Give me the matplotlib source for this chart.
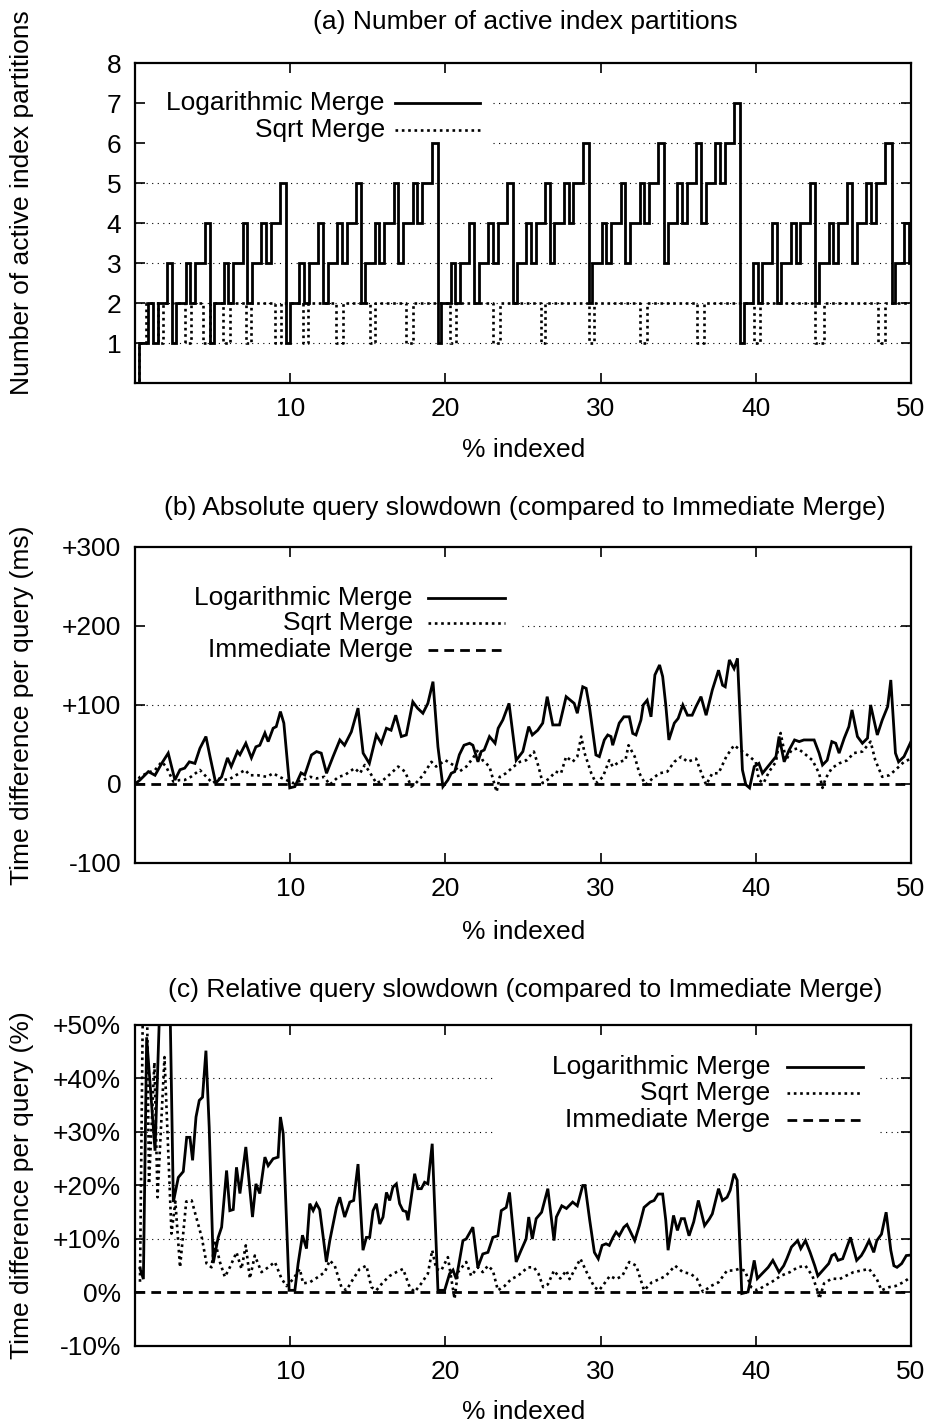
import matplotlib
matplotlib.use('Agg')
import matplotlib.pyplot as plt

plt.rcParams['font.family'] = ['Liberation Sans', 'DejaVu Sans']
plt.rcParams['font.size'] = 19

# ---------------- (a) number of active index partitions ----------------
# Logarithmic Merge: one entry per flush of the in-memory index
flush_at = [0.23, 0.84, 1.45, 2.06, 2.67, 3.27, 3.88, 4.49, 5.10, 5.71,
            6.32, 6.93, 7.54, 8.15, 8.76, 9.36, 9.97, 10.58, 11.19, 11.80,
            12.41, 13.02, 13.63, 14.24, 14.85, 15.45, 16.06, 16.67, 17.28, 17.89,
            18.50, 19.11, 19.72, 20.33, 20.94, 21.55, 22.16, 22.77, 23.38, 23.99,
            24.59, 25.20, 25.81, 26.42, 27.03, 27.64, 28.25, 28.86, 29.47, 30.08,
            30.69, 31.29, 31.90, 32.51, 33.12, 33.73, 34.34, 34.95, 35.56, 36.17,
            36.78, 37.38, 37.99, 38.60, 39.21, 39.82, 40.43, 41.04, 41.65, 42.26,
            42.87, 43.47, 44.08, 44.69, 45.30, 45.91, 46.52, 47.13, 47.74, 48.35,
            48.96, 49.57]
peak_parts = [1, 2, 2, 3, 2, 3, 3, 4, 2, 3, 3, 4, 3, 4, 4, 5,
              2, 3, 3, 4, 3, 4, 4, 5, 3, 4, 4, 5, 4, 5, 5, 6,
              2, 3, 3, 4, 3, 4, 4, 5, 3, 4, 4, 5, 4, 5, 5, 6,
              3, 4, 4, 5, 4, 5, 5, 6, 4, 5, 5, 6, 5, 6, 6, 7,
              2, 3, 3, 4, 3, 4, 4, 5, 3, 4, 4, 5, 4, 5, 5, 6,
              3, 4]
settled_parts = [1, 1, 2, 1, 2, 2, 3, 1, 2, 2, 3, 2, 3, 3, 4, 1,
                 2, 2, 3, 2, 3, 3, 4, 2, 3, 3, 4, 3, 4, 4, 5, 1,
                 2, 2, 3, 2, 3, 3, 4, 2, 3, 3, 4, 3, 4, 4, 5, 2,
                 3, 3, 4, 3, 4, 4, 5, 3, 4, 4, 5, 4, 5, 5, 6, 1,
                 2, 2, 3, 2, 3, 3, 4, 2, 3, 3, 4, 3, 4, 4, 5, 2,
                 3, 3]
merge_len = [0, .3, 0, .3, 0, .3, 0, .35, 0, .3, 0, .3, 0, .3, 0, .4,
             0, .3, 0, .3, 0, .3, 0, .35, 0, .3, 0, .3, 0, .3, 0, .4,
             0, .3, 0, .3, 0, .3, 0, .35, 0, .3, 0, .3, 0, .3, 0, .4,
             0, .3, 0, .3, 0, .3, 0, .35, 0, .3, 0, .3, 0, .3, 0, .4,
             0, .3, 0, .3, 0, .3, 0, .35, 0, .3, 0, .3, 0, .3, 0, .4,
             0, .3]

# Sqrt Merge: change points of the step line
sqrt_a_x = [0.0, 0.23, 0.71, 1.48, 1.80, 3.22, 3.60, 4.38, 4.83, 5.66, 6.11,
            7.14, 7.46, 9.01, 9.40, 10.81, 11.13, 12.93, 13.38, 15.12, 15.44,
            17.44, 17.89, 20.27, 20.66, 23.04, 23.49, 26.13, 26.45, 29.28, 29.60,
            32.56, 33.01, 36.23, 36.68, 39.90, 40.28, 43.82, 44.40, 47.85, 48.30, 50.0]
sqrt_a_y = [0, 1, 2, 1, 2, 1, 2, 1, 2, 1, 2,
            1, 2, 1, 2, 1, 2, 1, 2, 1, 2,
            1, 2, 1, 2, 1, 2, 1, 2, 1, 2,
            1, 2, 1, 2, 1, 2, 1, 2, 1, 2, 2]

# ---------------- (b) absolute slowdown (ms) ----------------
b_log_x = [0.0, 0.32, 0.86, 1.29, 1.72, 2.14, 2.57, 2.9, 3.2, 3.5,
           3.86, 4.18, 4.57, 4.83, 5.2, 5.58, 5.96, 6.2, 6.6, 6.76,
           7.14, 7.5, 7.79, 8.04, 8.37, 8.58, 8.9, 9.1, 9.37, 9.59,
           9.97, 10.3, 10.7, 10.94, 11.37, 11.7, 12.0, 12.34, 12.76, 13.2,
           13.5, 13.94, 14.37, 14.7, 15.1, 15.55, 15.87, 16.2, 16.5, 16.8,
           17.16, 17.48, 17.9, 18.2, 18.55, 18.87, 19.2, 19.52, 19.84, 20.16,
           20.38, 20.6, 20.9, 21.2, 21.56, 21.77, 22.1, 22.3, 22.5, 22.84,
           23.2, 23.4, 23.7, 24.1, 24.56, 24.99, 25.37, 25.6, 25.95, 26.27,
           26.56, 26.92, 27.35, 27.78, 28.3, 28.5, 28.85, 29.07, 29.28, 29.7,
           29.92, 30.24, 30.46, 30.67, 30.78, 31.2, 31.5, 31.85, 32.07, 32.28,
           32.6, 32.75, 33.0, 33.25, 33.5, 33.8, 34.0, 34.2, 34.4, 34.75,
           35.0, 35.3, 35.6, 35.9, 36.15, 36.47, 36.8, 37.2, 37.6, 37.86,
           38.03, 38.3, 38.6, 38.82, 39.14, 39.36, 39.6, 39.9, 40.2, 40.43,
           40.86, 41.3, 41.5, 41.83, 42.15, 42.5, 42.8, 43.1, 43.44, 43.76,
           44.08, 44.3, 44.6, 44.9, 45.15, 45.37, 45.7, 46.0, 46.2, 46.55,
           46.87, 47.2, 47.4, 47.83, 48.15, 48.5, 48.7, 49.0, 49.2, 49.55,
           50.0]
b_log_y = [0, 5, 15.6, 11, 26, 39, 5, 18, 20, 28,
           26, 45, 60, 35, 1, 9, 33, 22, 41, 37,
           51.5, 33, 47, 49, 64.5, 53.6, 70.5, 72.6, 91.6, 77,
           -5, -3.4, 14, 11.4, 36.7, 41, 39, 13.5, 34.6, 55.7,
           49, 66, 96, 39, 26, 62, 51.5, 70.5, 68, 87,
           60, 62, 104, 96, 89.5, 102, 129.5, 47, -3.4, 5,
           13.5, 15.6, 37, 49, 51.5, 49, 28, 41, 43, 60,
           51.5, 70.5, 81, 102, 30, 41, 72.6, 62, 68, 77,
           110.5, 74.7, 74.7, 110.5, 102, 89.5, 123, 121, 98, 36.7,
           34.6, 55.7, 62, 60, 49, 77, 85, 85, 64, 62,
           81, 100, 106, 85, 138, 150.6, 136, 100, 55.7, 77,
           83, 100, 87, 87, 98, 110.5, 87, 119, 144, 125,
           123, 157, 146, 159, 17.7, -1, -5, 22, 26, 13.5,
           24, 34.6, 60, 28, 43, 55.7, 53.6, 55.7, 55.7, 55.7,
           39, 24, 30, 53.6, 51.5, 39, 58, 72.6, 93.7, 60,
           51.5, 58, 100, 62, 81, 98, 131.6, 39, 28, 34.6,
           53.6]
b_sqrt_x = [0, 0.32, 0.75, 1.29, 1.72, 2.0, 2.47, 2.9, 3.2, 3.6,
            4.18, 4.5, 5.0, 5.45, 6.0, 6.5, 7.1, 7.4, 7.9, 8.5,
            8.9, 9.3, 9.75, 10.2, 10.8, 11.3, 11.7, 12.2, 12.55, 13.1,
            13.5, 14.15, 14.5, 14.8, 15.1, 15.55, 16.0, 16.5, 16.95, 17.4,
            17.8, 18.1, 18.55, 19.1, 19.4, 19.7, 20.0, 20.5, 20.9, 21.35,
            21.77, 22.1, 22.4, 22.84, 23.3, 23.5, 23.9, 24.4, 24.8, 25.2,
            25.7, 26.0, 26.27, 26.7, 27.1, 27.45, 27.78, 28.2, 28.5, 28.75,
            28.97, 29.4, 29.7, 30.15, 30.56, 30.78, 31.2, 31.6, 31.8, 32.2,
            32.5, 32.9, 33.35, 33.8, 34.3, 34.75, 35.2, 35.6, 36.15, 36.5,
            36.8, 37.2, 37.6, 38.1, 38.6, 39.0, 39.6, 40.0, 40.2, 40.5,
            40.86, 41.3, 41.6, 41.95, 42.3, 42.7, 43.1, 43.65, 44.08, 44.3,
            44.5, 44.9, 45.37, 45.9, 46.3, 46.87, 47.4, 47.7, 48.15, 48.6,
            49.0, 49.55, 50.0]
b_sqrt_y = [0, 9, 13.5, 17.7, 28, 22, 3, 5, 5, 9,
            17.7, 11, 1, 7, 5, 11, 17.7, 11, 11, 9,
            13.5, 9, 5, 1, 5, 9, 7, 9, -1, 9,
            11, 20, 13.5, 24, 15.6, 1, 5, 13.5, 22, 15.6,
            -3.4, 1, 11, 28, 22, 26, 30, 24, 15.6, 22,
            32.5, 43, 30, 22, -10, 9, 13.5, 22, 28, 30,
            41, 22, 1, 7, 15.6, 13.5, 34.6, 28, 34.6, 60,
            39, 13.5, 1, 9, 30, 22, 28, 30, 49, 34.6,
            13.5, -1, 7, 13.5, 15.6, 28, 34.6, 28, 32, 13.5,
            -1, 13.5, 13.5, 34.6, 49, 43, 34.6, 28, 5, 1,
            15.6, 28, 64.5, 30, 43, 45, 39, 30, 13.5, -5,
            7, 20, 26, 30, 39, 41, 53.6, 30, 9, 11,
            17.7, 28, 32]

# ---------------- (c) relative slowdown (%) ----------------
c_log_x = [0.32, 0.54, 0.75, 1.29, 1.61, 2.25, 2.47, 2.79, 3.11, 3.33,
           3.54, 3.71, 3.93, 4.14, 4.35, 4.57, 4.78, 5.04, 5.36, 5.58,
           5.9, 6.11, 6.33, 6.54, 6.76, 7.14, 7.57, 7.79, 8.04, 8.37,
           8.58, 8.9, 9.22, 9.37, 9.55, 9.93, 10.3, 10.51, 10.79, 11.05,
           11.26, 11.48, 11.69, 11.9, 12.33, 12.55, 12.98, 13.19, 13.51, 13.84,
           14.09, 14.37, 14.69, 14.91, 15.12, 15.34, 15.55, 15.77, 15.98, 16.2,
           16.41, 16.62, 16.84, 17.05, 17.27, 17.48, 17.59, 18.02, 18.23, 18.45,
           18.66, 18.87, 19.15, 19.52, 19.95, 20.27, 20.49, 20.7, 21.13, 21.34,
           21.77, 22.09, 22.41, 22.74, 23.06, 23.38, 23.6, 23.92, 24.13, 24.56,
           24.88, 25.2, 25.37, 25.6, 25.85, 26.2, 26.6, 27.0, 27.15, 27.5,
           27.8, 28.2, 28.5, 28.85, 29.0, 29.3, 29.6, 29.85, 30.1, 30.35,
           30.56, 30.8, 31.0, 31.2, 31.5, 31.7, 32.2, 32.5, 32.8, 33.2,
           33.45, 33.7, 34.0, 34.2, 34.35, 34.7, 34.95, 35.2, 35.4, 35.7,
           36.0, 36.3, 36.7, 37.0, 37.2, 37.6, 37.85, 38.15, 38.35, 38.6,
           38.8, 39.1, 39.5, 39.7, 39.9, 40.1, 40.5, 40.8, 41.1, 41.5,
           41.8, 42.0, 42.3, 42.7, 42.9, 43.2, 43.5, 43.8, 44.0, 44.4,
           44.7, 44.9, 45.1, 45.3, 45.6, 46.1, 46.5, 46.8, 47.0, 47.3,
           47.6, 47.8, 48.1, 48.4, 48.7, 48.9, 49.1, 49.4, 49.7, 50.0]
c_log_y = [4.5, 2.5, 47.7, 26.5, 55, 55, 16.9, 21.5, 22.6, 29,
           29, 24.7, 32.8, 35.9, 36.5, 45.2, 30.9, 5.5, 10.3, 12.2,
           22.8, 15.3, 15.5, 23.4, 18.5, 27.2, 14.1, 20.3, 18.5, 25.3,
           23.7, 25, 25.3, 32.8, 29.7, 0.4, 0.4, 5.4, 10.7, 8.2,
           16.6, 15.3, 16.6, 15.5, 5.7, 9.7, 15.9, 17.8, 14.1, 16.9,
           17.2, 24, 7.9, 10.3, 10.3, 15.3, 16.6, 12.8, 14.1, 18.7,
           17.2, 19.7, 20.3, 16.6, 15.3, 15.1, 13.5, 22.2, 19.4, 19.4,
           20.6, 20.3, 27.8, 0.4, 0.4, 3.5, 4.2, 2.5, 9.7, 10,
           12.2, 4.7, 7.2, 7.5, 10.3, 10.6, 15.3, 15.9, 18.7, 5.7,
           7.9, 10, 14.1, 10, 13.8, 15, 19.4, 9.7, 14.1, 16.2,
           15.7, 16.9, 16.2, 20, 20, 13.5, 7.5, 6.3, 8.8, 9.1,
           8.8, 10.3, 11.3, 10.6, 12.2, 12.7, 9.7, 12.5, 15.9, 16.9,
           17.2, 18.4, 18.4, 13.5, 7.9, 14.4, 11.6, 13.8, 13.8, 10.6,
           13.2, 17.2, 12.5, 13.7, 14.7, 19.4, 17.2, 17.8, 19.1, 22.2,
           21, -0.2, 0.1, 2.9, 6, 2.6, 3.8, 4.7, 6, 3.8,
           5, 6.3, 8.5, 9.7, 8.2, 9.7, 7.5, 5, 3.1, 4.4,
           5.4, 6.9, 7.2, 6, 6.3, 10.3, 6, 6.9, 7.9, 9.7,
           7.5, 9.7, 10.9, 15, 7.9, 5, 4.7, 5.4, 6.9, 7]
c_sqrt_x = [0.32, 0.51, 0.77, 0.9, 1.25, 1.45, 1.9, 2.35, 2.6, 2.9,
            3.3, 3.65, 4.3, 4.61, 4.93, 5.15, 5.47, 5.79, 6.11, 6.54,
            6.86, 7.14, 7.4, 7.72, 8.15, 8.58, 9.01, 9.44, 9.76, 10.19,
            10.62, 10.83, 11.26, 11.8, 12.23, 12.55, 12.87, 13.3, 13.62, 14.05,
            14.48, 14.91, 15.23, 15.55, 15.98, 16.41, 16.84, 17.27, 17.7, 18.02,
            18.45, 18.87, 19.15, 19.41, 19.73, 20.16, 20.59, 20.81, 21.34, 21.66,
            22.09, 22.41, 22.74, 23.06, 23.38, 23.81, 24.24, 24.67, 25.31, 25.7,
            26.0, 26.3, 26.6, 27.0, 27.4, 27.8, 28.0, 28.3, 28.7, 29.1,
            29.6, 29.9, 30.2, 30.6, 31.0, 31.4, 31.85, 32.3, 32.8, 33.3,
            33.8, 34.2, 34.8, 35.3, 35.8, 36.2, 36.6, 37.1, 37.6, 38.15,
            38.6, 38.9, 39.3, 39.7, 40.1, 40.55, 41.0, 41.6, 42.2, 42.7,
            43.2, 43.65, 44.0, 44.1, 44.4, 44.9, 45.4, 45.8, 46.3, 46.8,
            47.3, 47.8, 48.1, 48.6, 49.0, 49.5, 50.0]
c_sqrt_y = [2, 55, 55, 20.3, 43, 17.8, 44, 11, 17, 4.7,
            17, 17.2, 10.3, 5.4, 4.7, 9.7, 5.7, 2.9, 4.7, 7.5,
            4.4, 8.8, 2.6, 6.9, 3.8, 4.7, 5.7, 2.6, 1.2, 2.5,
            4.4, 1.7, 1.9, 2.9, 3.8, 6, 5, 1.0, 0.4, 2.5,
            4.4, 5, 1.0, 0.4, 1.9, 3.1, 3.8, 4.4, 1.0, 0.1,
            1.7, 3.5, 7.9, 4.4, 4.1, 6.6, -1.2, 3.8, 5.7, 3.1,
            4.7, 3.8, 5, 4.1, 0.4, 1.2, 2.5, 3.1, 4.7, 4.7,
            3.5, 1.0, 1.5, 4.1, 2.6, 4.1, 2.5, 4.1, 6.3, 3.8,
            1.0, 0.4, 1.5, 3.1, 2.5, 3.1, 5.7, 5, 0.4, 1.9,
            2.5, 3.1, 5, 3.8, 3.5, 2.6, 0.1, 1.2, 1.9, 4.1,
            4.1, 4.4, 4.1, 1.0, 0.4, 1.2, 1.9, 3.1, 3.8, 4.7,
            5, 3.1, 0.1, -1.2, 1.7, 2.6, 2.5, 3.1, 3.8, 4.1,
            4.4, 2.5, 0.4, 1.0, 1.2, 1.9, 2.9]

# Immediate Merge is the baseline
imm_x = [0, 50]
imm_y = [0, 0]

xticks = [10, 20, 30, 40, 50]
a_ticks = [1, 2, 3, 4, 5, 6, 7, 8]
b_ticks = [-100, 0, 100, 200, 300]
b_labels = ['-100', '0', '+100', '+200', '+300']
c_ticks = [-10, 0, 10, 20, 30, 40, 50]
c_labels = ['-10%', '0%', '+10%', '+20%', '+30%', '+40%', '+50%']

# build the step path of Logarithmic Merge from the flush table
log_a_x = [0.0]
log_a_y = [0]
for t, pk, st, d in zip(flush_at, peak_parts, settled_parts, merge_len):
    log_a_x.append(t)
    log_a_y.append(pk)
    if d > 0:
        log_a_x.append(t + d)
        log_a_y.append(st)
log_a_x.append(50.0)
log_a_y.append(log_a_y[-1])

SOLID = dict(color='black', lw=2.0, solid_joinstyle='miter')
DOTTED = dict(color='black', lw=1.9, ls=(0, (1, 1.4)))
DASHED = dict(color='black', lw=2.0, ls=(0, (3.5, 2.2)))
GRID = dict(color='black', lw=0.8, ls=(0, (1, 4)), zorder=0.5)


def setup(ax, yticks, ylabels, ylim):
    ax.set_xlim(0, 50)
    ax.set_ylim(*ylim)
    ax.set_xticks(xticks)
    ax.set_xticklabels([str(v) for v in xticks])
    ax.set_yticks(yticks)
    ax.set_yticklabels(ylabels)
    ax.tick_params(direction='in', length=7, width=1.2, top=True, right=True,
                   pad=10)
    for s in ax.spines.values():
        s.set_linewidth(1.6)


def key(ax, labels, styles, ys, x_text, x0, x1):
    for lab, st, y in zip(labels, styles, ys):
        ax.text(x_text, y, lab, transform=ax.transAxes, ha='right', va='center')
        ax.plot([x0, x1], [y, y], transform=ax.transAxes, clip_on=False, **st)


fig = plt.figure(figsize=(9.35, 14.24), dpi=100)

# (a)
ax = fig.add_axes([0.1444, 0.7310, 0.8299, 0.2247])
setup(ax, a_ticks, [str(v) for v in a_ticks], (0, 8))
for y in [1, 2, 3, 4, 5]:
    ax.axhline(y, **GRID)
for y in [6, 7]:
    ax.axhline(y, xmin=0.461, xmax=1, **GRID)
ax.plot(sqrt_a_x, sqrt_a_y, drawstyle='steps-post', **DOTTED)
ax.plot(log_a_x, log_a_y, drawstyle='steps-post', **SOLID)
key(ax, ['Logarithmic Merge', 'Sqrt Merge'], [SOLID, DOTTED],
    [0.875, 0.79], 0.322, 0.335, 0.445)

# (b)
ax = fig.add_axes([0.1444, 0.3940, 0.8299, 0.2219])
setup(ax, b_ticks, b_labels, (-100, 300))
ax.axhline(100, **GRID)
ax.axhline(200, xmin=0.4987, xmax=1, **GRID)
ax.plot(imm_x, imm_y, **DASHED)
ax.plot(b_sqrt_x, b_sqrt_y, **DOTTED)
ax.plot(b_log_x, b_log_y, **SOLID)
key(ax, ['Logarithmic Merge', 'Sqrt Merge', 'Immediate Merge'],
    [SOLID, DOTTED, DASHED], [0.8386, 0.7595, 0.674], 0.358, 0.3776, 0.4768)

# (c)
ax = fig.add_axes([0.1444, 0.0548, 0.8299, 0.2254])
setup(ax, c_ticks, c_labels, (-10, 50))
for y in [10, 20]:
    ax.axhline(y, **GRID)
for y in [30, 40]:
    ax.axhline(y, xmin=0, xmax=0.4652, **GRID)
    ax.axhline(y, xmin=0.96, xmax=1, **GRID)
ax.plot(imm_x, imm_y, **DASHED)
ax.plot(c_sqrt_x, c_sqrt_y, **DOTTED)
ax.plot(c_log_x, c_log_y, **SOLID)
key(ax, ['Logarithmic Merge', 'Sqrt Merge', 'Immediate Merge'],
    [SOLID, DOTTED, DASHED], [0.8692, 0.7882, 0.704], 0.8183, 0.8402, 0.9381)

# titles, axis labels
fig.text(0.5615, 1 - 22 / 1424, '(a) Number of active index partitions',
         ha='center', va='center')
fig.text(0.5615, 1 - 508 / 1424,
         '(b) Absolute query slowdown (compared to Immediate Merge)',
         ha='center', va='center')
fig.text(0.5615, 1 - 990 / 1424,
         '(c) Relative query slowdown (compared to Immediate Merge)',
         ha='center', va='center')
for yc in [450, 932, 1412]:
    fig.text(0.56, 1 - yc / 1424, '% indexed', ha='center', va='center')
fig.text(0.0235, 1 - 203 / 1424, 'Number of active index partitions',
         rotation=90, ha='center', va='center')
fig.text(0.0235, 1 - 705 / 1424, 'Time difference per query (ms)',
         rotation=90, ha='center', va='center')
fig.text(0.0235, 1 - 1185 / 1424, 'Time difference per query (%)',
         rotation=90, ha='center', va='center')

fig.savefig('out.png', dpi=100)
